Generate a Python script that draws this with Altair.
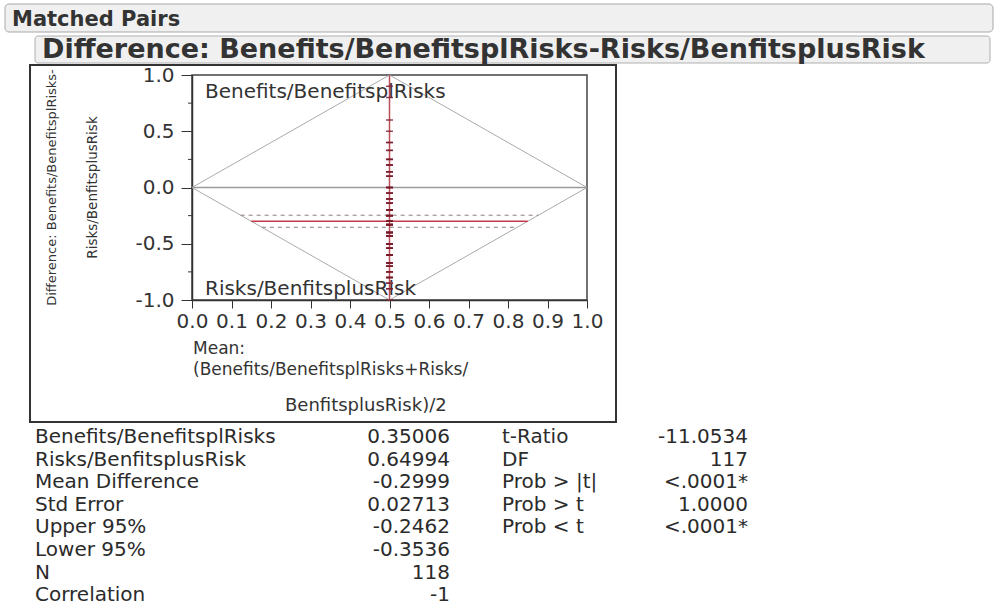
import altair as alt
import numpy as np
import pandas as pd

FONT = "DejaVu Sans"
INK = "#2b2b2b"

# Benefit share per respondent: Benefits / (Benefits + Risks), grouped by value
benefit_share = [0.95, 0.9, 0.8, 0.75, 0.7, 0.665, 0.625, 0.6, 0.57, 0.55,
                 0.5, 0.475, 0.45, 0.43, 0.4, 0.375, 0.35, 0.335, 0.3, 0.285,
                 0.25, 0.23, 0.2, 0.165, 0.15, 0.125, 0.1, 0.075, 0.05, 0.0]
respondents = [1, 1, 1, 1, 2, 2, 3, 3, 3, 3,
               4, 3, 5, 4, 6, 6, 7, 8, 7, 5,
               9, 5, 8, 5, 4, 3, 4, 2, 2, 1]

# Summary statistics of the matched pairs test
mean_benefits = 0.35006
mean_risks = 0.64994
mean_difference = -0.2999
std_error = 0.02713
upper_95 = -0.2462
lower_95 = -0.3536
n_pairs = 118
correlation = -1
t_ratio = -11.0534
dof = 117
prob_abs = "<.0001*"
prob_greater = "1.0000"
prob_less = "<.0001*"

x_ticks = [0.0, 0.1, 0.2, 0.3, 0.4, 0.5, 0.6, 0.7, 0.8, 0.9, 1.0]
y_ticks = [-1.0, -0.5, 0.0, 0.5, 1.0]
y_minor = [-0.75, -0.25, 0.25, 0.75]

# Reference diamond of the matched pairs plot
diamond_x = [0.0, 0.5, 1.0, 0.5, 0.0]
diamond_y = [0.0, 1.0, 0.0, -1.0, 0.0]

benefits = np.repeat(benefit_share, respondents)
risks = 1.0 - benefits
pairs = pd.DataFrame({"mean": (benefits + risks) / 2, "diff": benefits - risks})

diamond = pd.DataFrame({"x": diamond_x, "y": diamond_y, "k": range(len(diamond_x))})
ci = pd.DataFrame({"y": [upper_95, lower_95]})
ci["x"] = ci["y"].abs() / 2
ci["x2"] = 1 - ci["y"].abs() / 2
mean_df = pd.DataFrame({"y": [mean_difference]})
mean_df["x"] = mean_df["y"].abs() / 2
mean_df["x2"] = 1 - mean_df["y"].abs() / 2
# horizontal zero line across the diamond and vertical line through the apexes
zero_df = pd.DataFrame({"x": [diamond_x[0]], "x2": [diamond_x[2]], "y": [diamond_y[0]]})
spine_df = pd.DataFrame({"x": [diamond_x[1]], "y": [diamond_y[3]], "y2": [diamond_y[1]]})
one = pd.DataFrame({"a": [0]})

xs = alt.Scale(domain=[0, 1], nice=False, zero=False)
ys = alt.Scale(domain=[-1, 1], nice=False, zero=False)

# one axis definition shared by every layer, so the merged axes agree
AX_X = alt.Axis(values=x_ticks, format=".1f", labelFlush=False, labelOverlap=False,
                labelBound=False, tickSize=8, labelPadding=3, domainWidth=1.5)
AX_Y = alt.Axis(values=y_ticks, tickSize=11, labelPadding=7, domainWidth=1.5, labelOverlap=False,
                labelExpr="datum.value < 0 ? '-' + format(-datum.value, '.1f') : format(datum.value, '.1f')")

W, H = 395, 225


def X(field):
    return alt.X(field, scale=xs, title=None, axis=AX_X)


def Y(field):
    return alt.Y(field, scale=ys, title=None, axis=AX_Y)


diamond_layer = alt.Chart(diamond).mark_line(color="#ababab", strokeWidth=1).encode(
    x=X("x:Q"), y=Y("y:Q"), order="k:Q")

zero_line = alt.Chart(zero_df).mark_rule(color="#9a9a9a", strokeWidth=1.5).encode(
    x=X("x:Q"), x2="x2:Q", y=Y("y:Q"))

# minor ticks on the y axis
minor = alt.Chart(pd.DataFrame({"v": y_minor})).mark_rule(color="#333", strokeWidth=1).encode(
    x=alt.value(-4), x2=alt.value(0), y=Y("v:Q"))

# header bars
bar1 = alt.Chart(one).mark_rect(cornerRadius=4, fill="#f0f0f0", stroke="#a8a8a8", strokeWidth=1).encode(
    x=alt.value(-187), x2=alt.value(801), y=alt.value(-71), y2=alt.value(-43))
bar2 = alt.Chart(one).mark_rect(cornerRadius=3, fill="#f0f0f0", stroke="#b0b0b0", strokeWidth=1).encode(
    x=alt.value(-157), x2=alt.value(798), y=alt.value(-39), y2=alt.value(-12))
head1 = alt.Chart(one).mark_text(text="Matched Pairs", font=FONT, fontSize=21, fontWeight="bold",
                                 align="left", baseline="alphabetic", color="#333").encode(
    x=alt.value(-180), y=alt.value(-49))
head2 = alt.Chart(one).mark_text(text="Difference: Benefits/BenefitsplRisks-Risks/BenfitsplusRisk",
                                 font=FONT, fontSize=27, fontWeight="bold", align="left",
                                 baseline="alphabetic", color="#333").encode(
    x=alt.value(-150), y=alt.value(-17))

# outline around the plot block
frame = alt.Chart(one).mark_rect(fillOpacity=0, stroke="#333", strokeWidth=2).encode(
    x=alt.value(-162), x2=alt.value(424), y=alt.value(-10), y2=alt.value(347))

top_label = alt.Chart(one).mark_text(text="Benefits/BenefitsplRisks", font=FONT, fontSize=20,
                                     align="left", baseline="alphabetic", color="#333").encode(
    x=alt.value(13), y=alt.value(23))
bottom_label = alt.Chart(one).mark_text(text="Risks/BenfitsplusRisk", font=FONT, fontSize=20,
                                        align="left", baseline="alphabetic", color="#333").encode(
    x=alt.value(13), y=alt.value(220))

ci_lines = alt.Chart(ci).mark_rule(color="#8c7a80", strokeWidth=1, strokeDash=[4, 4]).encode(
    x=X("x:Q"), x2="x2:Q", y=Y("y:Q"))
mean_line = alt.Chart(mean_df).mark_rule(color="#c5394c", strokeWidth=1.5).encode(
    x=X("x:Q"), x2="x2:Q", y=Y("y:Q"))

spine = alt.Chart(spine_df).mark_rule(color="#b0303f", strokeWidth=1.5, opacity=0.85).encode(
    x=X("x:Q"), y=Y("y:Q"), y2="y2:Q")
points = alt.Chart(pairs).mark_tick(orient="horizontal", color="#7a1c2a", size=7, thickness=1.5,
                                    opacity=0.8).encode(
    x=X("mean:Q"), y=Y("diff:Q"))

# rotated y-axis title (two lines)
ytitle1 = alt.Chart(one).mark_text(text="Difference: Benefits/BenefitsplRisks-", font=FONT, fontSize=13,
                                   angle=270, align="center", baseline="middle", color="#333").encode(
    x=alt.value(-140), y=alt.value(H / 2))
ytitle2 = alt.Chart(one).mark_text(text="Risks/BenfitsplusRisk", font=FONT, fontSize=13.5,
                                   angle=270, align="center", baseline="middle", color="#333").encode(
    x=alt.value(-99), y=alt.value(H / 2))

# x-axis title
xtitle1 = alt.Chart(one).mark_text(text=["Mean:", "(Benefits/BenefitsplRisks+Risks/"], font=FONT,
                                   fontSize=17, lineHeight=21, align="left", baseline="alphabetic",
                                   color="#333").encode(x=alt.value(1), y=alt.value(279))
xtitle2 = alt.Chart(one).mark_text(text="BenfitsplusRisk)/2", font=FONT, fontSize=18, align="left",
                                   baseline="alphabetic", color="#333").encode(
    x=alt.value(93), y=alt.value(336))

# statistics table
left_labels = ["Benefits/BenefitsplRisks", "Risks/BenfitsplusRisk", "Mean Difference", "Std Error",
               "Upper 95%", "Lower 95%", "N", "Correlation"]
left_values = [f"{mean_benefits:.5f}", f"{mean_risks:.5f}", f"{mean_difference:.4f}", f"{std_error:.5f}",
               f"{upper_95:.4f}", f"{lower_95:.4f}", f"{n_pairs}", f"{correlation}"]
right_labels = ["t-Ratio", "DF", "Prob > |t|", "Prob > t", "Prob < t"]
right_values = [f"{t_ratio:.4f}", f"{dof}", prob_abs, prob_greater, prob_less]

ROW = 22.6
TOP = 368


def column(lines, x, align):
    return alt.Chart(one).mark_text(text=lines, font=FONT, fontSize=20, lineHeight=ROW, align=align,
                                    baseline="alphabetic", color=INK).encode(
        x=alt.value(x), y=alt.value(TOP))


table = [column(left_labels, -157, "left"), column(left_values, 258, "right"),
         column(right_labels, 310, "left"), column(right_values, 556, "right")]

chart = alt.layer(
    diamond_layer, zero_line, minor,
    bar1, bar2, head1, head2, frame, top_label, bottom_label,
    ci_lines, mean_line, spine, points,
    ytitle1, ytitle2, xtitle1, xtitle2, *table
).properties(
    width=W, height=H,
    background="white",
    autosize=alt.AutoSizeParams(type="none"),
    padding={"left": 192, "top": 75, "right": 995 - 192 - W, "bottom": 606 - 75 - H},
).configure_view(
    stroke="#444", strokeWidth=1.5
).configure_axis(
    labelFont=FONT, labelFontSize=20, labelColor="#333", domainColor="#333", tickColor="#333",
    grid=False, labelOverlap=False
)

chart.save("out.html", embed_options={"renderer": "svg", "actions": False})
